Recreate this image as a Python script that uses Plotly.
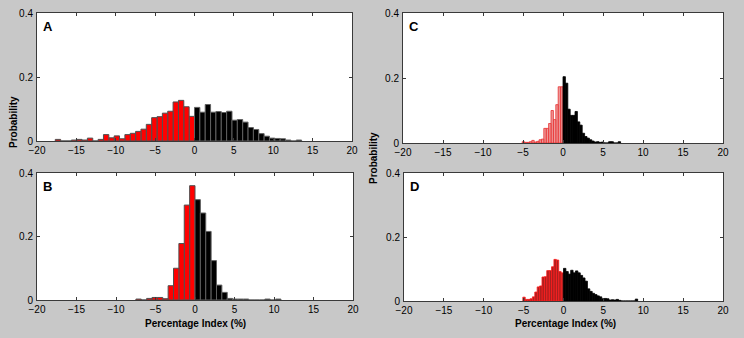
import plotly.graph_objects as go

# ---------------- data (probabilities per bin) ----------------
# bin widths (percentage-index units)
BIN_AB = 0.68
BIN_CD = 0.30

# Panel A: bins moving left from 0 (red) and right from 0 (black)
A_neg = [0.077, 0.107, 0.127, 0.122, 0.093, 0.087, 0.076, 0.073, 0.052, 0.037,
         0.030, 0.024, 0.020, 0.007, 0.016, 0.010, 0.020, 0.005, 0.0, 0.009,
         0.003, 0.005, 0.003, 0.0, 0.0, 0.005]
A_pos = [0.105, 0.090, 0.114, 0.090, 0.092, 0.089, 0.093, 0.065, 0.067, 0.059,
         0.042, 0.036, 0.023, 0.015, 0.009, 0.008, 0.007, 0.003, 0.0, 0.003]

# Panel B
B_neg = [0.360, 0.299, 0.178, 0.100, 0.045, 0.004, 0.008, 0.008, 0.005, 0.0, 0.003]
B_pos = [0.316, 0.274, 0.216, 0.124, 0.047, 0.024, 0.005, 0.003, 0.003, 0.003,
         0.0, 0.0, 0.0, 0.003, 0.0, 0.003]

# Panel C
C_neg = [0.173, 0.173, 0.118, 0.072, 0.100, 0.060, 0.045, 0.045, 0.012, 0.010,
         0.005, 0.003, 0.008, 0.004, 0.002, 0.002, 0.004]
C_pos = [0.204, 0.184, 0.104, 0.085, 0.085, 0.097, 0.065, 0.055, 0.030, 0.020,
         0.015, 0.010, 0.006, 0.003, 0.004, 0.002, 0.003, 0.0, 0.0, 0.004,
         0.004, 0.0, 0.0, 0.004]

# Panel D
D_neg = [0.088, 0.092, 0.128, 0.130, 0.107, 0.095, 0.095, 0.076, 0.075, 0.047,
         0.044, 0.028, 0.013, 0.007, 0.005, 0.005, 0.012]
D_pos = [0.102, 0.092, 0.084, 0.096, 0.088, 0.094, 0.088, 0.080, 0.072, 0.062,
         0.038, 0.030, 0.024, 0.020, 0.016, 0.013, 0.007, 0.008, 0.007, 0.003,
         0.004, 0.003, 0.005, 0.002, 0.0, 0.0, 0.0, 0.0, 0.0, 0.0, 0.006]

panel_labels = ["A", "B", "C", "D"]
x_ticks = [-20, -15, -10, -5, 0, 5, 10, 15, 20]
y_ticks = [0, 0.2, 0.4]
y_ticktext = ["0", "0.2", "0.4"]
x_title = "Percentage Index (%)"
y_title = "Probability"

# ---------------- figure ----------------
W, H = 744, 338
BG = "#c8c8c8"

def px_dom_x(a, b):
    return [a / W, b / W]

def px_dom_y(top, bottom):
    return [1 - bottom / H, 1 - top / H]

panels = {
    "A": dict(neg=A_neg, pos=A_pos, w=BIN_AB, dx=px_dom_x(37, 352), dy=px_dom_y(13, 141),
              neg_fill="#ff0000", neg_line="#505050", pos_fill="#000000", pos_line="#606060", lw=1),
    "B": dict(neg=B_neg, pos=B_pos, w=BIN_AB, dx=px_dom_x(37, 353), dy=px_dom_y(173, 300),
              neg_fill="#ff0000", neg_line="#505050", pos_fill="#000000", pos_line="#606060", lw=1),
    "C": dict(neg=C_neg, pos=C_pos, w=BIN_CD, dx=px_dom_x(403, 723), dy=px_dom_y(13, 143),
              neg_fill="rgba(235,140,140,0.9)", neg_line="#e83030", pos_fill="#000000", pos_line="#000000", lw=0.8),
    "D": dict(neg=D_neg, pos=D_pos, w=BIN_CD, dx=px_dom_x(404, 723), dy=px_dom_y(173, 301),
              neg_fill="#a82020", neg_line="#ff1a1a", pos_fill="#000000", pos_line="#000000", lw=0.8),
}

fig = go.Figure()
layout = dict(
    width=W, height=H,
    paper_bgcolor=BG, plot_bgcolor="white",
    margin=dict(l=0, r=0, t=0, b=0, autoexpand=False),
    showlegend=False, barmode="overlay",
    font=dict(family="Liberation Sans, Arial, sans-serif", size=10, color="black"),
)

annotations = []
for i, name in enumerate(panel_labels):
    p = panels[name]
    n = i + 1
    xa = "x" if n == 1 else f"x{n}"
    ya = "y" if n == 1 else f"y{n}"
    w = p["w"]
    xneg = [-(k + 0.5) * w for k in range(len(p["neg"]))]
    xpos = [(k + 0.5) * w for k in range(len(p["pos"]))]
    fig.add_trace(go.Bar(x=xneg, y=p["neg"], width=w, xaxis=xa, yaxis=ya,
                         marker=dict(color=p["neg_fill"], line=dict(color=p["neg_line"], width=p["lw"]))))
    fig.add_trace(go.Bar(x=xpos, y=p["pos"], width=w, xaxis=xa, yaxis=ya,
                         marker=dict(color=p["pos_fill"], line=dict(color=p["pos_line"], width=p["lw"]))))
    axis_common = dict(showline=True, linecolor="#3a3a3a", linewidth=1, mirror="ticks",
                       ticks="inside", ticklen=3, tickcolor="#3a3a3a", showgrid=False,
                       zeroline=False, automargin=False, tickfont=dict(size=10, color="black"))
    layout[f"xaxis{'' if n == 1 else n}"] = dict(domain=p["dx"], anchor=ya, range=[-20, 20],
                                                  tickvals=x_ticks, ticklabelstandoff=0, **axis_common)
    layout[f"yaxis{'' if n == 1 else n}"] = dict(domain=p["dy"], anchor=xa, range=[0, 0.4],
                                                  tickvals=y_ticks, ticktext=y_ticktext,
                                                  ticklabelstandoff=1, **axis_common)
    annotations.append(dict(text=f"<b>{name}</b>", xref=f"{xa} domain", yref=f"{ya} domain",
                            x=0.012, y=0.97, xanchor="left", yanchor="top", showarrow=False,
                            font=dict(size=13, color="black")))

# axis titles
annotations += [
    dict(text=f"<b>{x_title}</b>", xref="paper", yref="paper", x=195 / W, y=1 - 323 / H,
         xanchor="center", yanchor="middle", showarrow=False, font=dict(size=10)),
    dict(text=f"<b>{x_title}</b>", xref="paper", yref="paper", x=565 / W, y=1 - 323 / H,
         xanchor="center", yanchor="middle", showarrow=False, font=dict(size=10)),
    dict(text=f"<b>{y_title}</b>", xref="paper", yref="paper", x=13 / W, y=1 - 122 / H,
         xanchor="center", yanchor="middle", showarrow=False, textangle=-90, font=dict(size=10)),
    dict(text=f"<b>{y_title}</b>", xref="paper", yref="paper", x=374 / W, y=1 - 158 / H,
         xanchor="center", yanchor="middle", showarrow=False, textangle=-90, font=dict(size=10)),
]
layout["annotations"] = annotations
fig.update_layout(**layout)
fig.write_html(
    "out.html",
    config={"displayModeBar": False},
    post_script="document.body.style.margin='0';document.body.style.background='#c8c8c8';",
)
